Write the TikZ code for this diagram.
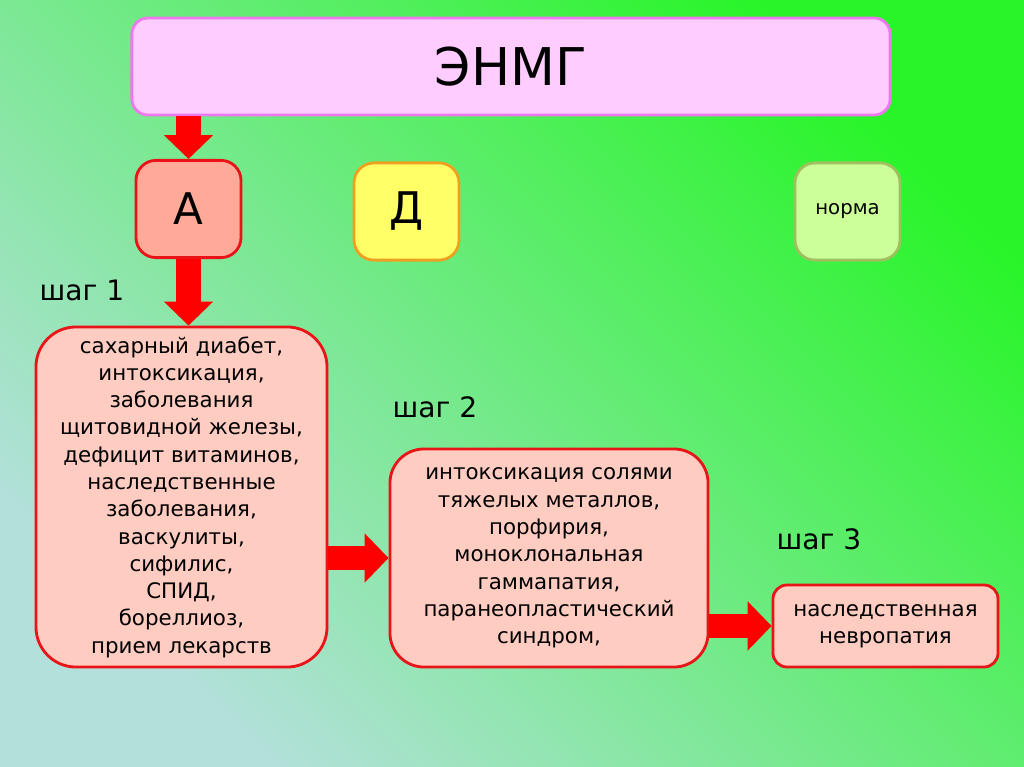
\documentclass[tikz,border=0pt]{standalone}
\usepackage{fontspec}
\setmainfont{DejaVu Sans}
\usepackage{tikz}
\usetikzlibrary{arrows.meta,positioning,calc}

\definecolor{bgtop}{RGB}{40,245,40}
\definecolor{bgmid}{RGB}{125,236,145}
\definecolor{bgbot}{RGB}{180,224,220}
\definecolor{titlefill}{RGB}{255,204,255}
\definecolor{titleedge}{RGB}{238,120,238}
\definecolor{boxred}{RGB}{232,20,24}
\definecolor{boxfill}{RGB}{255,204,194}
\definecolor{afill}{RGB}{255,170,153}
\definecolor{dfill}{RGB}{255,255,102}
\definecolor{dedge}{RGB}{240,160,32}
\definecolor{nfill}{RGB}{204,255,153}
\definecolor{nedge}{RGB}{160,192,96}
\definecolor{arrowred}{RGB}{255,0,0}

\begin{document}
\begin{tikzpicture}[x=0.025cm, y=-0.025cm, thick,
    main/.style = {draw, line width=2pt, align=center, inner sep=0pt},
    redbox/.style = {main, draw=boxred, fill=boxfill, font=\fontsize{15.2}{19.4}\selectfont},
    small/.style = {main, rounded corners=0.5cm, minimum width=2.625cm, minimum height=2.43cm},
    blockarrow/.style = {-{Triangle[width=34pt,length=17pt]}, line width=17.7pt, color=arrowred},
    steplabel/.style = {font=\fontsize{20}{24}\selectfont}]
    % Background
    \shade[top color=bgtop, middle color=bgmid, bottom color=bgbot, shading angle=-45] (0,0) rectangle (1024,767);

    % Nodes
    \node[main, draw=titleedge, fill=titlefill, rounded corners=0.4cm, minimum width=18.95cm, minimum height=2.425cm, font=\fontsize{37}{40}\selectfont] (1) at (511,66.5) {ЭНМГ};
    \node[small, draw=boxred, fill=afill, font=\fontsize{31}{34}\selectfont] (2) at (188.5,209) {А};
    \node[small, draw=dedge, fill=dfill, font=\fontsize{31}{34}\selectfont] (3) at (406.5,211.5) {Д};
    \node[small, draw=nedge, fill=nfill, font=\fontsize{14}{17}\selectfont] (4) at (847.5,211.5) {норма};
    \node[redbox, rounded corners=1cm, minimum width=7.275cm, minimum height=8.5cm] (5) at (181.5,497)
        {сахарный диабет,\\интоксикация,\\заболевания\\щитовидной железы,\\дефицит витаминов,\\наследственные\\заболевания,\\васкулиты,\\сифилис,\\СПИД,\\бореллиоз,\\прием лекарств};
    \node[redbox, rounded corners=0.85cm, minimum width=7.95cm, minimum height=5.45cm] (6) at (549,558)
        {интоксикация солями\\тяжелых металлов,\\порфирия,\\моноклональная\\гаммапатия,\\паранеопластический\\синдром,};
    \node[redbox, rounded corners=0.35cm, minimum width=5.625cm, minimum height=2.05cm] (7) at (885.5,626)
        {наследственная\\невропатия};

    % steps
    \node[steplabel] (s1) at (82,290) {шаг 1};
    \node[steplabel] (s2) at (435,407) {шаг 2};
    \node[steplabel] (s3) at (819,539) {шаг 3};

    % Block arrows
    \draw[blockarrow] (1.south -| 2.north) -- (2.north);
    \draw[blockarrow] (2.south) -- (2.south |- 5.north);
    \draw[blockarrow] (5.east |- 6.west) -- (6.west);
    \draw[blockarrow] (6.east |- 7.west) -- (7.west);
\end{tikzpicture}
\end{document}
